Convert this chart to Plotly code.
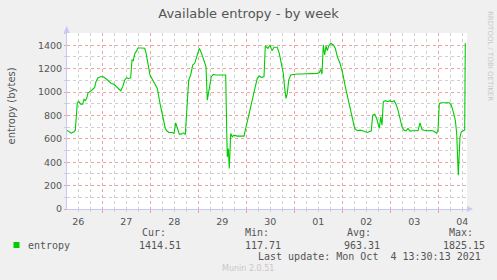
import pandas as pd
import plotly.graph_objects as go

# ---- data ----
base = pd.Timestamp("2021-09-26 00:00")
hours = [6.2, 7.35, 8.5, 9.85, 10.5, 11.5, 12.2, 13.2, 14.2, 14.85, 15.5, 16.2, 16.85, 17.85,
         19.2, 20.2, 20.85, 21.85, 23.2, 24.5, 25.85, 27.2, 28.5, 29.85, 31.2, 32.2, 33.2, 34.2,
         35.2, 36.2, 37.2, 38.2, 38.85, 39.5, 40.2, 41.2, 41.85, 43.5, 45.2, 45.85, 46.85, 47.85,
         49.2, 50.5, 51.5, 52.85, 54.2, 55.5, 56.2,
         57.35, 59.0, 59.85, 60.7, 61.5, 62.5, 63.5, 64.5, 65.5, 66.2, 67.2, 68.2, 69.2, 70.2,
         71.2, 72.5, 73.5, 74.85, 75.85, 76.5, 77.5, 78.5, 79.5, 80.7, 82.35, 84.0, 85.7, 86.2,
         86.5, 87.0, 87.5, 88.2, 89.0, 89.85, 91.5, 93.2, 94.85, 95.5, 96.5, 97.5, 98.5, 99.5,
         100.5, 101.5, 102.5, 103.5, 104.85, 105.5,
         106.85, 107.85, 108.85, 109.85, 111.5, 112.5, 113.5, 114.5, 115.2, 115.85, 116.5,
         117.2, 118.2, 119.85, 121.5, 123.2, 124.85, 126.5, 128.2, 129.85, 131.5, 132.5, 133.2,
         133.85, 134.5, 135.2, 135.85, 136.5, 137.2, 138.2, 139.5, 140.5, 141.5, 142.85, 144.2,
         145.5, 146.85, 148.2, 149.2, 150.2, 151.5, 152.85, 154.2, 155.2, 156.5,
         157.35, 158.5, 159.2, 160.2, 161.2, 162.5, 163.2, 163.85, 164.5, 165.5, 166.85, 167.85,
         168.85, 169.85, 170.85, 171.85, 172.85, 173.85, 174.85, 175.85, 176.85, 177.85, 179.2,
         180.5, 181.85, 182.85, 183.85, 184.85, 186.5, 188.2, 189.2, 190.2, 191.2, 191.85, 192.5,
         193.5, 194.85, 196.2, 197.5, 198.5, 199.5, 200.5, 201.2, 202.0, 202.85, 203.5, 204.5,
         205.2, 205.5]
entropy = [674, 660, 649, 660, 674, 908, 920, 897, 897, 937, 926, 946, 994, 1003,
           1023, 1040, 1089, 1123, 1131, 1131, 1114, 1094, 1074, 1066, 1046, 1023, 1011, 1046,
           1103, 1123, 1114, 1123, 1274, 1269, 1326, 1354, 1377, 1377, 1374, 1337, 1246, 1146,
           1103, 1060, 1031, 903, 789, 689, 669,
           654, 654, 646, 737, 689, 640, 640, 651, 640, 846, 1103, 1146, 1231, 1246,
           1303, 1374, 1337, 1274, 1217, 931, 1031, 1131, 1151, 1146, 1146, 1146, 1146, 674,
           446, 517, 346, 646, 617, 631, 623, 623, 623, 674, 760, 823, 897, 960,
           1046, 1117, 1137, 1126, 1131, 1394,
           1374, 1403, 1354, 1383, 1383, 1331, 1246, 1160, 1031, 946, 989,
           1103, 1146, 1151, 1154, 1154, 1154, 1157, 1154, 1157, 1160, 1166, 1194,
           1154, 1403, 1317, 1394, 1354, 1394, 1417, 1403, 1374, 1303, 1246, 1160,
           1046, 946, 860, 774, 689, 669, 674, 669, 660, 654,
           660, 669, 803, 811, 774, 689, 789, 717, 917, 926, 917, 926,
           917, 926, 897, 846, 774, 703, 674, 669, 689, 666, 669,
           666, 669, 737, 680, 674, 669, 671, 669, 660, 646, 674, 903,
           908, 911, 908, 908, 889, 831, 760, 646, 289, 617, 660, 669,
           674, 1417]
day_labels = ["26", "27", "28", "29", "30", "01", "02", "03", "04"]
y_ticks = [0, 200, 400, 600, 800, 1000, 1200, 1400]
y_minor = [100, 300, 500, 700, 900, 1100, 1300, 1500]
legend_name = "entropy"
stat_names = ["Cur:", "Min:", "Avg:", "Max:"]
stat_values = ["1414.51", "117.71", "963.31", "1825.15"]
last_update = "Last update: Mon Oct\u00a0\u00a04 13:30:13 2021"

times = [base + pd.Timedelta(hours=h) for h in hours]
x_start = base + pd.Timedelta(hours=6.35)
x_end = base + pd.Timedelta(hours=206.35)
midnights = [base + pd.Timedelta(days=d) for d in range(1, 9)]
noons = [base + pd.Timedelta(hours=12 + 24 * d) for d in range(len(day_labels))]
six_hours = [base + pd.Timedelta(hours=h) for h in range(6, 210, 6) if h % 24 != 0]

# ---- geometry ----
W, H = 497, 280
L, R, T, B = 67, 30, 33, 71
PW, PH = W - L - R, H - T - B

def px(x):
    return (x - L) / PW

def py(y):
    return (H - B - y) / PH

RED = "#F2A0A0"
GRAY = "#CFCFCF"
AXIS = "#C8C8F4"
TXT = "#555555"
MONO = "DejaVu Sans Mono"
DASH = "dot"

fig = go.Figure()
fig.add_trace(go.Scatter(x=times, y=entropy, mode="lines",
                         line=dict(color="#00CC00", width=1.1), showlegend=False,
                         hoverinfo="skip"))
fig.add_trace(go.Scatter(x=[], y=[], xaxis="x2", showlegend=False))

fig.update_layout(
    width=W, height=H, margin=dict(l=L, r=R, t=T, b=B, pad=0),
    paper_bgcolor="#F0F0F0", plot_bgcolor="#FFFFFF",
    font=dict(family="DejaVu Sans", color=TXT, size=10),
    title=dict(text="Available entropy - by week", x=0.5, xanchor="center",
               y=1 - 13 / H, yanchor="middle", font=dict(size=13, color=TXT)),
    xaxis=dict(type="date", range=[x_start, x_end], tickmode="array", tickvals=midnights,
               showticklabels=False, showgrid=True, gridcolor=RED, griddash=DASH,
               gridwidth=1, ticks="outside", ticklen=3, tickcolor=RED,
               minor=dict(tickmode="array", tickvals=six_hours, showgrid=True, gridcolor=GRAY,
                          griddash=DASH, ticks="outside", ticklen=2, tickcolor=GRAY),
               showline=True, linecolor=AXIS, linewidth=1, zeroline=False, fixedrange=True),
    xaxis2=dict(type="date", overlaying="x", anchor="y", side="bottom", range=[x_start, x_end],
                tickmode="array", tickvals=noons, ticktext=day_labels, showgrid=False,
                ticks="outside", ticklen=4, tickcolor="rgba(0,0,0,0)",
                tickfont=dict(size=9.5, color=TXT), showline=False, zeroline=False),
    yaxis=dict(range=[0, 1505], tickmode="array", tickvals=y_ticks, showgrid=True,
               gridcolor=RED, griddash=DASH, ticks="outside", ticklen=2, tickcolor=RED,
               minor=dict(tickmode="array", tickvals=y_minor, showgrid=True, gridcolor=GRAY,
                          griddash=DASH, ticks="outside", ticklen=2, tickcolor=GRAY),
               tickfont=dict(size=9.5, color=TXT), showline=True, linecolor=AXIS,
               zeroline=False, fixedrange=True),
)

ann = []
ann.append(dict(text="entropy (bytes)", x=px(10.5), y=py(106), textangle=-90,
                font=dict(size=10, color=TXT)))
ann.append(dict(text="RRDTOOL / TOBI OETIKER", x=px(490), y=py(56), textangle=90,
                font=dict(size=7, color="#C8C8C8")))
ann.append(dict(text=legend_name, x=px(26), y=py(245), xanchor="left",
                font=dict(family=MONO, size=10, color=TXT)))
hdr_x = [140, 243, 345, 447]
val_x = [137, 243, 342, 441]
for name, hx, val, vx in zip(stat_names, hdr_x, stat_values, val_x):
    ann.append(dict(text=name, x=px(hx), y=py(232.3), xanchor="left",
                    font=dict(family=MONO, size=10, color=TXT)))
    ann.append(dict(text=val, x=px(vx), y=py(245), xanchor="left",
                    font=dict(family=MONO, size=10, color=TXT)))
ann.append(dict(text=last_update, x=px(483), y=py(256.7), xanchor="right",
                font=dict(family=MONO, size=10, color=TXT)))
ann.append(dict(text="Munin 2.0.51", x=px(248), y=py(268.3),
                font=dict(size=8, color="#C8C8C8")))
for a in ann:
    a.update(xref="paper", yref="paper", showarrow=False, yanchor=a.get("yanchor", "middle"))
    a.setdefault("xanchor", "center")
fig.update_layout(annotations=ann)

shapes = [
    # legend colour swatch
    dict(type="rect", xref="paper", yref="paper", x0=px(13.5), x1=px(19.5),
         y0=py(248), y1=py(242), fillcolor="#00CC00", line=dict(width=0)),
    # axis arrows
    dict(type="path", xref="paper", yref="paper",
         path=f"M {px(63.7)} {py(33)} L {px(69.7)} {py(33)} L {px(66.7)} {py(26)} Z",
         fillcolor=AXIS, line=dict(width=0)),
    dict(type="path", xref="paper", yref="paper",
         path=f"M {px(467)} {py(206)} L {px(467)} {py(212)} L {px(473)} {py(209)} Z",
         fillcolor=AXIS, line=dict(width=0)),
]
fig.update_layout(shapes=shapes)

fig.write_html("out.html")
